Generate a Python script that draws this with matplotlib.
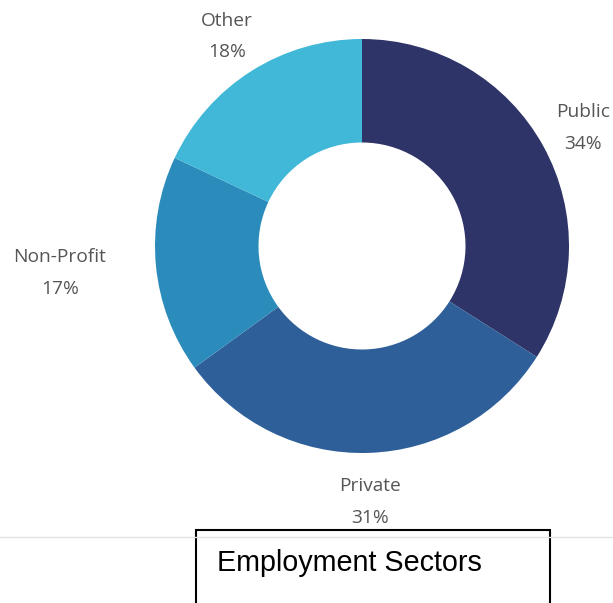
import matplotlib.pyplot as plt
from matplotlib.patches import Rectangle
from matplotlib.lines import Line2D

sectors = ['Public', 'Private', 'Non-Profit', 'Other']
shares = [34, 31, 17, 18]
colors = ['#2e3468', '#2e5f99', '#2b8cbc', '#41b8d7']
title = 'Employment Sectors'

fig = plt.figure(figsize=(6.13, 6.03), dpi=100)
ax = fig.add_axes([155 / 613, 150 / 603, 414 / 613, 414 / 603])

labels = [f'{s}\n{p}%' for s, p in zip(sectors, shares)]
wedges, texts = ax.pie(shares, colors=colors, startangle=90, counterclock=False,
                       radius=1, labels=labels, labeldistance=1.22,
                       wedgeprops=dict(width=0.5, linewidth=0),
                       textprops=dict(color='#555555', fontsize=13.8,
                                      family='Open Sans', linespacing=1.95,
                                      ha='center', va='center'))
for t in texts:
    t.set_horizontalalignment('center')
    t.set_verticalalignment('center')
    x, y = t.get_position()
    t.set_position((x, y - 0.018))
# Non-Profit label sits further left than the radial spot
texts[2].set_position((-1.46, -0.13))
ax.set_xlim(-1, 1)
ax.set_ylim(-1, 1)
ax.set_aspect('equal')
ax.axis('off')

# divider line and caption box
fig.add_artist(Line2D([0, 1], [66 / 603, 66 / 603], color='#e2e2e2', lw=1))
fig.add_artist(Rectangle((196 / 613, -0.05), 354 / 613, 73 / 603 + 0.05,
                         transform=fig.transFigure, facecolor='white',
                         edgecolor='black', lw=1.5))
fig.text(217 / 613, 40 / 603, title, fontsize=20.7, family='Liberation Sans',
         color='black', ha='left', va='center')

fig.savefig('out.png', dpi=100)
